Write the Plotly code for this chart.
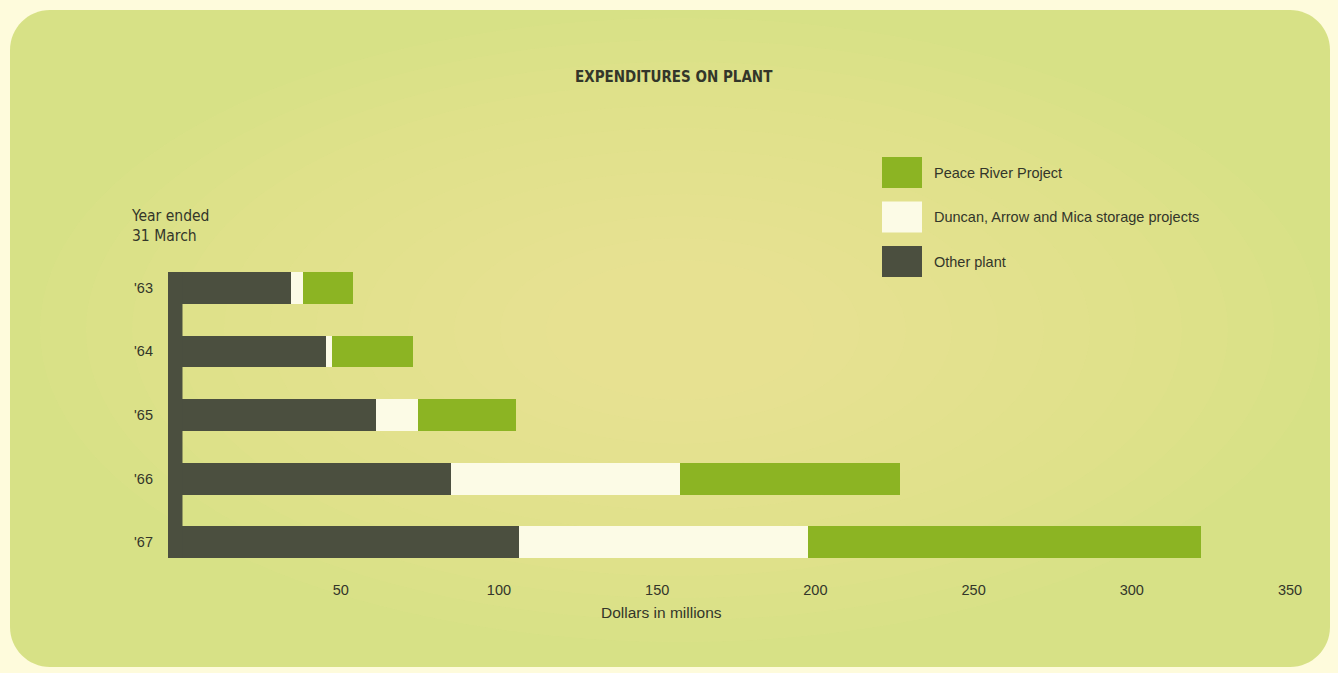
import plotly.graph_objects as go

# Fiscal years (year ended 31 March)
years = ["'63", "'64", "'65", "'66", "'67"]

# Expenditures, dollars in millions
other_plant = [34.3, 45.2, 61.1, 84.8, 106.3]
duncan_arrow_mica = [3.7, 2.2, 13.4, 72.5, 91.3]
peace_river = [15.9, 25.5, 31.0, 69.4, 124.2]

x_ticks = [50, 100, 150, 200, 250, 300, 350]

series_names = ["Other plant", "Duncan, Arrow and Mica storage projects", "Peace River Project"]

DARK = "#4b4f3f"
CREAM = "#fcfbe6"
GREEN = "#8cb423"
TEXT = "#33362a"
PANEL = "#d7e186"
GLOW = "#efeb9e"
PAGE = "#fefbdc"

SANS = "Liberation Sans, Arial"
NARROW = "Liberation Sans Narrow, DejaVu Sans Condensed, Arial Narrow"

W, H = 1338, 673
ML, MR, MT, MB = 168, 28, 256, 99
PW, PH = W - ML - MR, H - MT - MB

# axis range so that 0 sits just right of the connecting spine
X_MIN, X_MAX = -4.58, 356.3


def px(x):
    return (x - ML) / PW


def py(y):
    return (H - MB - y) / PH


fig = go.Figure()
for name, vals, col in zip(series_names, [other_plant, duncan_arrow_mica, peace_river], [DARK, CREAM, GREEN]):
    fig.add_trace(go.Bar(
        y=years, x=vals, name=name, orientation="h",
        marker=dict(color=col, line=dict(width=0)),
        showlegend=False,
    ))

shapes = []

# rounded background panel
x0, x1, y0, y1, r = 10, 1330, 10, 667, 40
k = 0.5523 * r
pts = [
    ("M", [(x0 + r, y0)]),
    ("L", [(x1 - r, y0)]),
    ("C", [(x1 - r + k, y0), (x1, y0 + r - k), (x1, y0 + r)]),
    ("L", [(x1, y1 - r)]),
    ("C", [(x1, y1 - r + k), (x1 - r + k, y1), (x1 - r, y1)]),
    ("L", [(x0 + r, y1)]),
    ("C", [(x0 + r - k, y1), (x0, y1 - r + k), (x0, y1 - r)]),
    ("L", [(x0, y0 + r)]),
    ("C", [(x0, y0 + r - k), (x0 + r - k, y0), (x0 + r, y0)]),
]
path = ""
for cmd, ps in pts:
    path += cmd + " ".join(f"{px(a):.5f},{py(b):.5f}" for a, b in ps) + " "
path += "Z"
shapes.append(dict(type="path", xref="paper", yref="paper", path=path,
                   fillcolor=PANEL, line=dict(width=0), layer="below"))

# soft warm glow toward the middle of the panel, built from faint stacked ellipses
cx, cy = 680, 330
for i in range(12):
    rx = 640 - i * 46
    ry = 312 - i * 22
    shapes.append(dict(type="circle", xref="paper", yref="paper",
                       x0=px(cx - rx), x1=px(cx + rx), y0=py(cy + ry), y1=py(cy - ry),
                       fillcolor=GLOW, opacity=0.09, line=dict(width=0), layer="below"))

# vertical spine joining the "Other plant" bars
shapes.append(dict(type="rect", xref="x", yref="y",
                   x0=X_MIN, x1=0, y0=-0.25, y1=len(years) - 1 + 0.25,
                   fillcolor=DARK, line=dict(width=0), layer="above"))

annotations = [
    dict(text="<b>EXPENDITURES ON PLANT</b>", xref="paper", yref="paper",
         x=px(674), y=py(77), showarrow=False, xanchor="center", yanchor="middle",
         font=dict(family=NARROW, size=15, color=TEXT)),
    dict(text="Year ended<br>31 March", xref="paper", yref="paper",
         x=px(129), y=py(205), showarrow=False, xanchor="left", yanchor="top", align="left",
         font=dict(family=NARROW, size=15.5, color=TEXT)),
    dict(text="Dollars in millions", xref="paper", yref="paper",
         x=px(661), y=py(612), showarrow=False, xanchor="center", yanchor="middle",
         font=dict(family=SANS, size=15.5, color=TEXT)),
]

# legend keys, top to bottom
legend_items = list(zip(series_names[::-1], [GREEN, CREAM, DARK]))
for i, (name, col) in enumerate(legend_items):
    top = 157 + i * 44.5
    shapes.append(dict(type="rect", xref="paper", yref="paper",
                       x0=px(882), x1=px(922), y0=py(top + 31), y1=py(top),
                       fillcolor=col, line=dict(width=0)))
    annotations.append(dict(text=name, xref="paper", yref="paper",
                            x=px(932), y=py(top + 15.5), showarrow=False,
                            xanchor="left", yanchor="middle",
                            font=dict(family=SANS, size=14.5, color=TEXT)))

fig.update_layout(
    width=W, height=H,
    margin=dict(l=ML, r=MR, t=MT, b=MB, pad=0),
    barmode="stack", bargap=0.5,
    paper_bgcolor=PAGE, plot_bgcolor="rgba(0,0,0,0)",
    shapes=shapes, annotations=annotations,
    showlegend=False,
    xaxis=dict(range=[X_MIN, X_MAX], tickvals=x_ticks, ticktext=[str(v) for v in x_ticks],
               showgrid=False, zeroline=False, showline=False, ticks="",
               ticklabelstandoff=5, automargin=False,
               tickfont=dict(family=SANS, size=14.5, color=TEXT)),
    yaxis=dict(categoryorder="array", categoryarray=years, autorange="reversed",
               showgrid=False, zeroline=False, showline=False, ticks="",
               ticklabelstandoff=14, automargin=False,
               tickfont=dict(family=SANS, size=14.5, color=TEXT)),
)

fig.write_html("out.html")
